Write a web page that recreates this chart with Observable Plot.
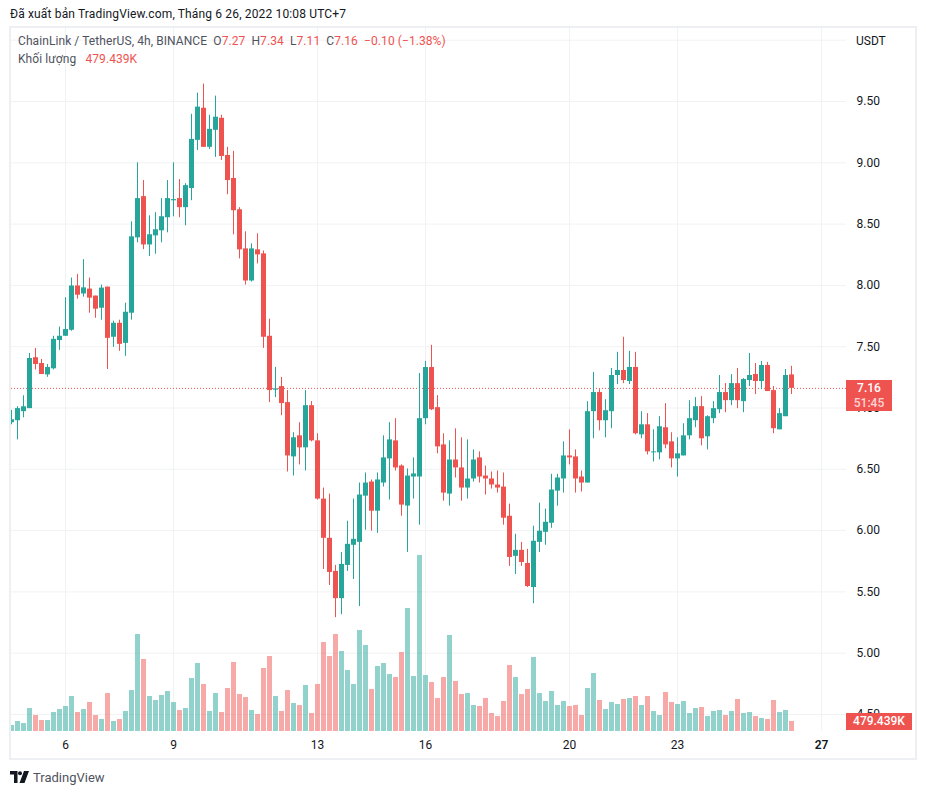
<!DOCTYPE html>
<html>
<head>
<meta charset="utf-8">
<script src="https://cdn.jsdelivr.net/npm/d3@7"></script>
<script src="https://cdn.jsdelivr.net/npm/@observablehq/plot@0.6"></script>
<style>
	body { margin: 0; background: #fff; font-family: Roboto, sans-serif; color: #131722; }
	#page { position: relative; width: 926px; height: 794px; overflow: hidden; }
	#title { height: 26px; line-height: 28px; padding-left: 10px; font-size: 12px; letter-spacing: .15px; box-sizing: border-box; white-space: nowrap; }
	#chart { position: relative; margin-left: 9px; width: 904px; height: 730px; border: 2px solid #eeeff3; }
	#chart svg { position: absolute; left: 0; top: 0; }
	.legend { position: absolute; left: 7px; font-size: 12px; letter-spacing: .08px; color: #50535e; white-space: pre; line-height: 16px; }
	.legend b { font-weight: 400; color: #ef5350; }
	.badge { position: absolute; left: 835px; background: #ef5350; color: #fff; text-align: center; font-size: 12px; font-weight: 500; }
	#unit { position: absolute; left: 845px; top: 5px; font-size: 12px; line-height: 16px; }
	#footer { position: absolute; left: 10px; top: 768px; height: 18px; display: flex; align-items: center; font-size: 13px; color: #50535e; }
	#footer svg { margin-right: 4px; }
</style>
</head>
<body>
<div id="page">
	<div id="title">Đã xuất bản TradingView.com, Tháng 6 26, 2022 10:08 UTC+7</div>
	<div id="chart">
		<div id="candles"></div>
		<div id="volume"></div>
		<div class="legend" style="top:5px">ChainLink / TetherUS, 4h, BINANCE  O<b>7.27</b>  H<b>7.34</b>  L<b>7.11</b>  C<b>7.16</b>  <b>−0.10 (−1.38%)</b></div>
		<div class="legend" style="top:23px">Khối lượng   <b>479.439K</b></div>
		<div id="unit">USDT</div>
		<div class="badge" id="priceBadge" style="width:46px;height:31px;line-height:15px"><div style="padding-top:1px">7.16</div><div style="opacity:.75">51:45</div></div>
		<div class="badge" id="volumeBadge" style="width:66px;height:17px;line-height:17px">479.439K</div>
	</div>
	<div id="footer">
		<svg width="19" height="12" viewBox="0 0 19 12"><path d="M0 0h7.5v12H4V3.5H0z M14 0h5l-4.5 12H9.500z" fill="#131722"/><circle cx="10" cy="2.200" r="2" fill="#131722"/></svg>
		TradingView
	</div>
</div>
<script>
const opens = [6.88,6.896,6.97,6.995,7.41,7.363,7.27,7.32,7.55,7.585,7.634,7.995,7.93,7.97,7.913,7.814,7.986,7.577,7.691,7.527,7.773,8.388,8.724,8.33,8.404,8.445,8.552,8.69,8.708,8.634,8.79,9.183,9.445,9.126,9.265,9.363,9.06,8.872,8.617,8.298,8.036,8.29,8.257,7.585,7.145,7.175,7.044,6.601,6.773,6.675,7.019,6.732,6.257,5.937,5.667,5.445,5.716,5.88,5.904,6.281,6.396,6.158,6.388,6.585,6.732,6.527,6.2,6.437,6.437,6.913,7.33,7.003,6.699,6.298,6.576,6.511,6.347,6.421,6.593,6.445,6.421,6.372,6.355,6.117,5.79,5.839,5.732,5.536,5.904,5.986,6.06,6.322,6.421,6.609,6.601,6.437,6.388,6.97,7.126,6.896,6.97,7.265,7.306,7.216,7.331,6.781,6.863,6.634,6.634,6.839,6.724,6.585,6.609,6.773,6.896,7.011,6.765,6.913,6.986,7.126,7.06,7.199,7.052,7.224,7.273,7.216,7.347,7.142,6.822,6.929,7.27];
const highs = [6.98,7.01,7.10,7.445,7.486,7.396,7.355,7.585,7.66,7.90,8.06,8.09,8.21,8.06,7.913,8.003,7.986,7.708,7.716,7.855,8.519,9.0,8.855,8.568,8.593,8.708,8.855,9.0,8.863,8.83,9.396,9.568,9.642,9.388,9.544,9.388,9.126,9.093,8.634,8.437,8.339,8.421,8.281,7.724,7.331,7.249,7.142,6.798,6.88,7.142,7.052,6.79,6.347,6.298,5.716,5.822,6.076,6.257,6.388,6.47,6.413,6.47,6.773,6.88,6.913,6.536,6.503,6.593,7.281,7.38,7.511,7.101,6.79,6.732,6.83,6.757,6.74,6.658,6.642,6.527,6.478,6.486,6.47,6.216,5.97,5.904,5.847,6.036,6.224,6.175,6.459,6.459,6.724,6.822,6.658,6.486,7.052,7.29,7.15,7.068,7.322,7.454,7.577,7.462,7.454,6.97,6.954,6.822,6.929,7.036,6.798,6.757,6.872,7.06,7.085,7.093,6.937,7.052,7.265,7.199,7.273,7.322,7.24,7.445,7.363,7.38,7.372,7.175,6.995,7.314,7.34];
const lows = [6.863,6.74,6.92,6.995,7.31,7.273,7.25,7.31,7.47,7.585,7.626,7.888,7.904,7.773,7.732,7.716,7.314,7.495,7.462,7.421,7.716,8.347,8.292,8.235,8.254,8.347,8.429,8.56,8.552,8.486,8.691,9.10,9.126,9.109,9.044,9.019,8.74,8.413,8.216,8.003,8.027,8.175,7.486,7.044,7.085,6.937,6.478,6.445,6.536,6.486,6.724,6.249,5.683,5.552,5.29,5.314,5.667,5.601,5.38,6.003,5.995,5.978,6.355,6.249,6.486,6.117,5.822,6.257,6.044,6.863,6.978,6.626,6.24,6.2,6.429,6.24,6.257,6.396,6.388,6.29,6.339,6.306,6.044,5.708,5.642,5.708,5.536,5.404,5.822,5.88,6.019,6.199,6.306,6.536,6.306,6.314,6.388,6.749,6.814,6.757,6.831,7.191,7.199,7.191,6.781,6.749,6.617,6.56,6.577,6.667,6.511,6.437,6.609,6.74,6.839,6.691,6.658,6.872,6.954,6.962,7.019,6.995,6.962,7.175,7.109,7.15,7.134,6.79,6.822,6.929,7.11];
const closes = [6.904,6.995,7.01,7.404,7.355,7.273,7.33,7.56,7.585,7.64,7.995,7.92,7.98,7.896,7.806,7.978,7.568,7.691,7.519,7.781,8.396,8.708,8.33,8.413,8.454,8.56,8.708,8.70,8.634,8.814,9.191,9.454,9.126,9.273,9.372,9.052,8.855,8.609,8.29,8.036,8.298,8.249,7.577,7.142,7.156,7.036,6.609,6.757,6.675,7.019,6.732,6.257,5.937,5.658,5.445,5.724,5.888,5.929,6.29,6.388,6.158,6.413,6.593,6.74,6.511,6.208,6.445,6.462,6.913,7.33,6.986,6.683,6.306,6.576,6.511,6.347,6.421,6.576,6.437,6.421,6.372,6.347,6.101,5.781,5.839,5.74,5.544,5.913,5.995,6.068,6.331,6.429,6.609,6.593,6.421,6.388,6.97,7.126,6.896,6.978,7.265,7.306,7.224,7.331,6.79,6.863,6.642,6.642,6.847,6.699,6.585,6.626,6.773,6.913,7.011,6.749,6.929,6.995,7.126,7.06,7.199,7.06,7.232,7.265,7.216,7.347,7.134,6.831,6.954,7.265,7.16];
// khoi luong, tinh theo K
const volumes = [288,480,384,1104,768,528,528,912,1056,1200,1680,912,1056,1392,768,576,1824,480,576,960,1968,4656,3456,1680,1488,1728,1920,1392,1008,1104,2544,3264,2256,960,1824,912,2064,3312,1776,1632,1008,816,3024,3600,1680,960,1968,1344,1248,2208,864,2256,4272,3600,4656,3840,2928,2256,4848,4128,2016,3120,3264,2736,2592,3792,5904,2640,8448,2688,2352,1584,2592,4608,2400,1776,1824,1248,1200,1584,864,720,1440,3168,2592,1776,2016,3552,1824,1440,1920,1248,1440,1200,1248,768,2064,2784,1488,1056,1392,1296,1536,1584,1680,1248,1680,960,768,1872,1392,1296,1440,864,1104,1152,720,960,1008,768,960,1536,864,912,720,624,576,1488,912,1008,479.439];

const priceTicks = [9.5,9,8.5,8,7.5,7,6.5,6,5.5,5,4.5];
const dayIndexes = [9,27,51,69,93,111,135];
const dayLabels = ["6","9","13","16","20","23","27"];
const lastPrice = 7.16;

const UP = "#26a69a";
const DOWN = "#ef5350";
const GRID = "#f1f2f4";

const candles = opens.map((o, i) => ({i, open: o, high: highs[i], low: lows[i], close: closes[i], volume: volumes[i], color: closes[i] >= o ? UP : DOWN}));

const base = {
	width: 904,
	height: 730,
	marginLeft: 0,
	marginTop: 0,
	marginRight: 69,
	marginBottom: 27,
	style: {background: "transparent", fontFamily: "Roboto, sans-serif", fontSize: "12px", color: "#131722"},
	x: {domain: [0, 135], range: [0, 810], axis: null},
};

const dayText = d => dayLabels[dayIndexes.indexOf(d)];

const priceChart = Plot.plot({
	...base,
	y: {domain: [4.5, 9.5], range: [686, 73], axis: null},
	marks: [
		Plot.ruleY([10, ...priceTicks], {stroke: GRID}),
		Plot.ruleX(dayIndexes, {stroke: GRID}),
		Plot.axisY(priceTicks, {anchor: "right", label: null, tickSize: 0, tickPadding: 0, dx: 10, textAnchor: "start", tickFormat: d => d.toFixed(2), fontSize: 12, fill: "#131722"}),
		Plot.axisX(dayIndexes.slice(0, -1), {anchor: "bottom", label: null, tickSize: 0, tickPadding: 9, tickFormat: dayText, fontSize: 12, fill: "#131722"}),
		Plot.axisX(dayIndexes.slice(-1), {anchor: "bottom", label: null, tickSize: 0, tickPadding: 9, tickFormat: dayText, fontSize: 12, fontWeight: 600, fill: "#131722"}),
		Plot.ruleY([lastPrice], {stroke: DOWN, strokeDasharray: "1 2"}),
		Plot.ruleX(candles, {x: "i", y1: "low", y2: "high", stroke: "color", strokeWidth: 1, clip: true}),
		Plot.ruleX(candles, {x: "i", y1: "open", y2: "close", stroke: "color", strokeWidth: 5, clip: true}),
	],
});
document.getElementById("candles").append(priceChart);

const volumeChart = Plot.plot({
	...base,
	y: {domain: [0, 9600], range: [703, 503], axis: null},
	marks: [
		Plot.ruleX(candles, {x: "i", y1: 0, y2: "volume", stroke: "color", strokeOpacity: 0.5, strokeWidth: 5, clip: true}),
	],
});
document.getElementById("volume").append(volumeChart);

// dat nhan gia theo scale
const priceY = priceChart.scale("y").apply(lastPrice);
document.getElementById("priceBadge").style.top = (priceY - 8) + "px";
document.getElementById("volumeBadge").style.top = (volumeChart.scale("y").apply(0) - 18) + "px";
</script>
</body>
</html>
